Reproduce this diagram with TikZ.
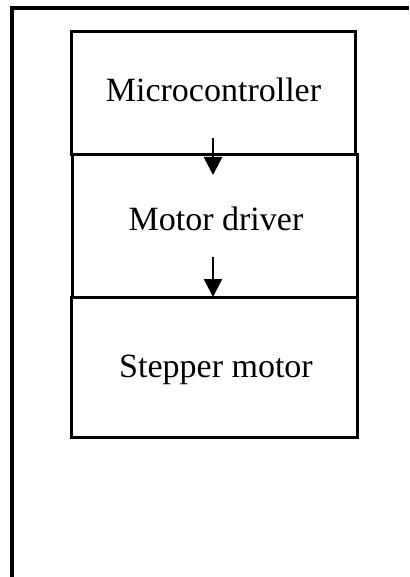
\documentclass[tikz,border=0pt]{standalone}
\usepackage{fontspec}
\setmainfont{Liberation Serif}
\usetikzlibrary{arrows.meta}
\begin{document}
\begin{tikzpicture}[x=1pt,y=-1pt,
  frame/.style={line width=4pt},
  blockbox/.style={draw,line width=3pt,rectangle},
  label/.style={anchor=base,font=\fontsize{34}{40}\selectfont},
  flow/.style={line width=2.5pt,-{Triangle[length=18pt,width=18pt]}}]
\useasboundingbox (0,0) rectangle (409,577);
% outer frame: top rule and left rule
\draw[frame] (10,8.5) -- (409,8.5);
\draw[frame] (12,6.5) -- (12,577);
% blocks
\draw[blockbox] (71.5,32) rectangle (355,155);
\draw[blockbox] (72,155) rectangle (357,297);
\draw[blockbox] (71.5,297) rectangle (357,437);
% block titles
\node[label] (mc) at (213.5,102) {Microcontroller};
\node[label] (md) at (216,230) {Motor driver};
\node[label] (sm) at (216,377) {Stepper motor};
% signal flow
\coordinate (a1s) at (213,138);
\coordinate (a1e) at (213,175);
\coordinate (a2s) at (213,257);
\coordinate (a2e) at (213,297);
\draw[flow] (a1s) -- (a1e);
\draw[flow] (a2s) -- (a2e);
\end{tikzpicture}
\end{document}
